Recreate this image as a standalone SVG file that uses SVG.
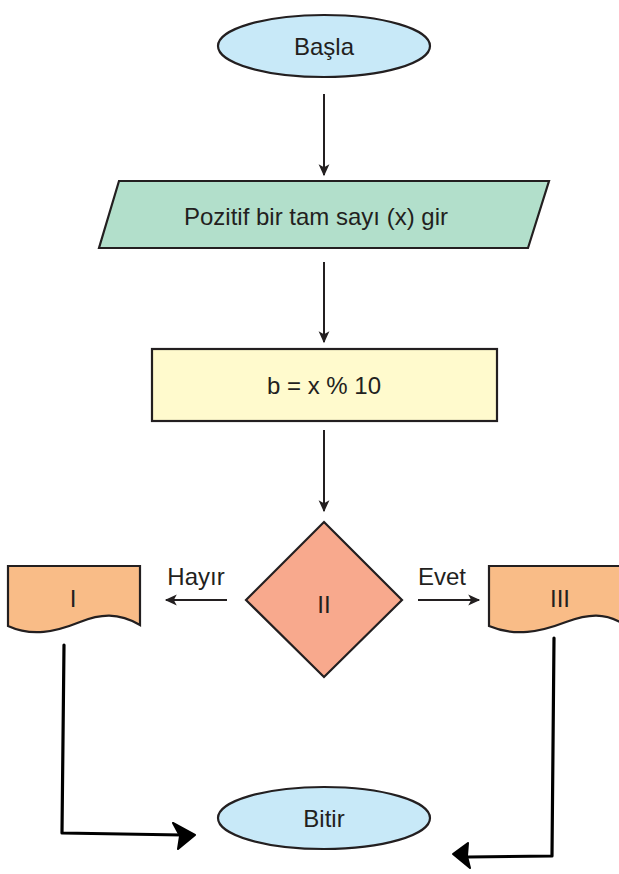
<svg xmlns="http://www.w3.org/2000/svg" width="619" height="874" viewBox="0 0 619 874">
  <style>
    .shape { stroke: #231f20; stroke-width: 2.2; stroke-linejoin: miter; }
    .label { font-family: "Liberation Sans", Arial, sans-serif; font-size: 24px; fill: #231f20; text-anchor: middle; dominant-baseline: central; }
    .flow { stroke: #231f20; stroke-width: 2; fill: none; }
    .hand { stroke: #000; stroke-width: 3.2; fill: none; stroke-linecap: round; stroke-linejoin: round; }
  </style>
  <defs>
    <marker id="arrow" viewBox="0 0 10 10" refX="9" refY="5" markerWidth="14" markerHeight="12" markerUnits="userSpaceOnUse" orient="auto">
      <path d="M0,0.5 L10,5 L0,9.5 L2.5,5 Z" fill="#231f20"/>
    </marker>
  </defs>
  <rect width="619" height="874" fill="#ffffff"/>

  <g id="start">
    <ellipse class="shape" cx="324" cy="46" rx="106" ry="31" fill="#c8e9f8"/>
    <text class="label" x="324" y="46">Başla</text>
  </g>

  <g id="input">
    <polygon class="shape" points="119,181 549,181 528,248 99,248" fill="#b2dfcb"/>
    <text class="label" x="316" y="216">Pozitif bir tam sayı (x) gir</text>
  </g>

  <g id="process">
    <rect class="shape" x="152" y="349" width="345" height="72" fill="#fffacd"/>
    <text class="label" x="324" y="385">b = x % 10</text>
  </g>

  <g id="decision">
    <polygon class="shape" points="324,522 402,600 324,677 246,600" fill="#f8a98d"/>
    <text class="label" x="324" y="604">II</text>
  </g>

  <g id="doc-left">
    <path class="shape" d="M8,566 L140,566 L140,625 C118,612 100,614 80,622 C55,632 32,637 8,626 Z" fill="#f9bc87"/>
    <text class="label" x="73" y="598">I</text>
  </g>

  <g id="doc-right">
    <path class="shape" d="M489,566 L625,566 L625,625 C605,612 588,614 566,622 C540,632 515,637 489,626 Z" fill="#f9bc87"/>
    <text class="label" x="560" y="598">III</text>
  </g>

  <g id="end">
    <ellipse class="shape" cx="324" cy="818" rx="106" ry="31" fill="#c8e9f8"/>
    <text class="label" x="324" y="818">Bitir</text>
  </g>

  <g id="connectors">
    <line class="flow" x1="324" y1="94" x2="324" y2="175" marker-end="url(#arrow)"/>
    <line class="flow" x1="324" y1="262" x2="324" y2="342" marker-end="url(#arrow)"/>
    <line class="flow" x1="324" y1="430" x2="324" y2="511" marker-end="url(#arrow)"/>
    <line class="flow" x1="227" y1="600" x2="166" y2="600" marker-end="url(#arrow)"/>
    <line class="flow" x1="418" y1="600" x2="479" y2="600" marker-end="url(#arrow)"/>
    <text class="label" x="196" y="576">Hayır</text>
    <text class="label" x="442" y="576">Evet</text>

    <!-- hand-drawn returns into the end node -->
    <polyline class="hand" points="64,645 62,833 182,835"/>
    <path d="M173,823 L195,835 L178,849 L180,836 Z" fill="#000" stroke="#000" stroke-width="2" stroke-linejoin="round"/>
    <polyline class="hand" points="554,638 552,856 468,857"/>
    <path d="M468,843 L453,854 L470,868 L467,856 Z" fill="#000" stroke="#000" stroke-width="2" stroke-linejoin="round"/>
  </g>
</svg>
